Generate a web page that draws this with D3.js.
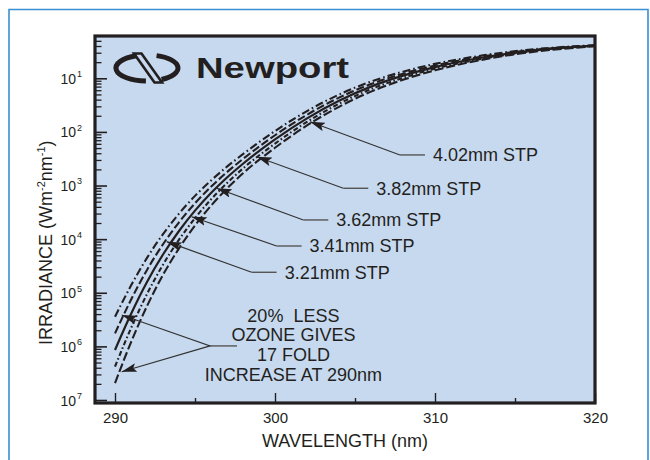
<!DOCTYPE html>
<html>
<head>
<meta charset="utf-8">
<script src="https://cdn.jsdelivr.net/npm/d3@7"></script>
<style>
  html, body { margin: 0; padding: 0; background: #ffffff; }
  svg { display: block; font-family: "Liberation Sans", Arial, Helvetica, sans-serif; }
</style>
</head>
<body>
<svg id="chart" width="650" height="460"></svg>
<script>
// Spectral irradiance at ground level (W m-2 nm-1) for five ozone column amounts.
const wavelengths = [290, 291, 292, 293, 294, 295, 296, 297, 298, 300, 302, 304, 306, 308, 310, 313, 316, 320];

const irr321 = [3.57e-6, 1.36e-5, 4.48e-5, 1.24e-4, 2.99e-4, 6.41e-4, 1.24e-3, 2.25e-3, 3.85e-3, 1.04e-2, 2.44e-2, 4.97e-2, 8.69e-2, 1.33e-1, 1.86e-1, 2.68e-1, 3.44e-1, 4.15e-1];
const irr341 = [1.75e-6, 7.40e-6, 2.67e-5, 8.02e-5, 2.06e-4, 4.67e-4, 9.48e-4, 1.78e-3, 3.13e-3, 8.67e-3, 2.09e-2, 4.36e-2, 7.80e-2, 1.22e-1, 1.73e-1, 2.56e-1, 3.35e-1, 4.10e-1];
const irr362 = [8.57e-7, 4.02e-6, 1.59e-5, 5.18e-5, 1.42e-4, 3.40e-4, 7.23e-4, 1.41e-3, 2.55e-3, 7.24e-3, 1.79e-2, 3.82e-2, 7.00e-2, 1.12e-1, 1.62e-1, 2.44e-1, 3.26e-1, 4.06e-1];
const irr382 = [4.20e-7, 2.18e-6, 9.46e-6, 3.34e-5, 9.77e-5, 2.47e-4, 5.51e-4, 1.11e-3, 2.08e-3, 6.05e-3, 1.54e-2, 3.35e-2, 6.28e-2, 1.02e-1, 1.51e-1, 2.33e-1, 3.17e-1, 4.01e-1];
const irr402 = [2.06e-7, 1.19e-6, 5.64e-6, 2.16e-5, 6.73e-5, 1.80e-4, 4.20e-4, 8.79e-4, 1.69e-3, 5.06e-3, 1.32e-2, 2.94e-2, 5.64e-2, 9.38e-2, 1.41e-1, 2.23e-1, 3.08e-1, 3.96e-1];

const seriesLabels = ["3.21mm STP", "3.41mm STP", "3.62mm STP", "3.82mm STP", "4.02mm STP"];
const seriesValues = [irr321, irr341, irr362, irr382, irr402];
const seriesDash = ["8,3,1.6,3", "8,3", null, "5,2.5,1.6,2.5", "9,3"];

// Decade ticks and the exponents printed beside them.
const yTickValues = [1e-1, 1e-2, 1e-3, 1e-4, 1e-5, 1e-6, 1e-7];
const yTickExponents = ["1", "2", "3", "4", "5", "6", "7"];
const xTickLabels = [290, 300, 310, 320];
const xMinorTicks = [295, 305, 315];

// Pointer annotations: arrow tip and elbow in data units.
const stpTips = [[293.23, 8.97e-5], [294.79, 2.62e-4], [296.36, 8.89e-4], [298.86, 3.45e-3], [302.19, 1.55e-2]];
const stpElbows = [[298.54, 2.41e-5], [300.10, 7.45e-5], [301.77, 2.28e-4], [304.27, 8.89e-4], [307.81, 3.72e-3]];

const ozoneNote = ["20%\u00a0\u00a0LESS", "OZONE GIVES", "17 FOLD", "INCREASE AT 290nm"];
const ozoneTips = [[290.42, 3.85e-6], [290.42, 3.37e-7]];
const ozoneJoin = [295.94, 1.02e-6];
const ozoneNoteAnchor = [301.15, 2.89e-6];

// Layout
const W = 650, H = 460;
const plot = { left: 95, right: 595, top: 36, bottom: 403 };
const ink = "#231f20";

const svg = d3.select("#chart");

const x = d3.scaleLinear().domain([288.75, 320]).range([plot.left, plot.right]);
const y = d3.scaleLog().domain([1e-7, 1e-1]).range([400, 78.3]);

// Outer page border
svg.append("path")
  .attr("d", `M9,${H + 2} V9.5 H648 V${H + 2}`)
  .attr("fill", "none")
  .attr("stroke", "#3a8fd2")
  .attr("stroke-width", 1.6);

// Plot background
svg.append("rect")
  .attr("x", plot.left).attr("y", plot.top)
  .attr("width", plot.right - plot.left).attr("height", plot.bottom - plot.top)
  .attr("fill", "#c7d9ef");

svg.append("clipPath").attr("id", "plotClip")
  .append("rect")
  .attr("x", plot.left).attr("y", plot.top)
  .attr("width", plot.right - plot.left).attr("height", plot.bottom - plot.top);

// Minor log ticks (2..9 within each decade), kept inside the frame
const yMinor = [];
for (let e = -8; e <= -1; e++) {
  for (let m = 2; m <= 9; m++) {
    const v = m * Math.pow(10, e);
    const py = y(v);
    if (py > plot.top + 2 && py < plot.bottom - 2) yMinor.push(v);
  }
}

const yMinorAxis = d3.axisLeft(y).tickValues(yMinor).tickSizeInner(-6.5).tickSizeOuter(0).tickFormat("");
svg.append("g").attr("transform", `translate(${plot.left},0)`).call(yMinorAxis)
  .call(g => g.select(".domain").remove())
  .call(g => g.selectAll("line").attr("stroke", ink).attr("stroke-width", 1.3));

const yAxis = d3.axisLeft(y).tickValues(yTickValues).tickSizeInner(-12).tickSizeOuter(0).tickPadding(13)
  .tickFormat(() => "");
const yAxisG = svg.append("g").attr("transform", `translate(${plot.left},0)`).call(yAxis);
yAxisG.select(".domain").remove();
yAxisG.attr("font-family", null);
yAxisG.selectAll("line").attr("stroke", ink).attr("stroke-width", 1.6);
yAxisG.selectAll(".tick text").each(function (d, i) {
  const t = d3.select(this)
    .attr("font-size", 14).attr("fill", ink)
    .attr("text-anchor", "end").attr("dy", "0.36em");
  t.append("tspan").text("10");
  t.append("tspan").attr("font-size", 9).attr("dy", "-0.75em").attr("dx", "1").text(yTickExponents[i]);
});

const xAxis = d3.axisBottom(x).tickValues(xTickLabels).tickSizeInner(-10).tickSizeOuter(0).tickPadding(9).tickFormat(d3.format("d"));
const xAxisG = svg.append("g").attr("transform", `translate(0,${plot.bottom})`).call(xAxis);
xAxisG.select(".domain").remove();
xAxisG.attr("font-family", null).attr("font-size", 15);
xAxisG.selectAll("line").attr("stroke", ink).attr("stroke-width", 1.4);
xAxisG.selectAll("text").attr("fill", ink);

const xMinorAxis = d3.axisBottom(x).tickValues(xMinorTicks).tickSizeInner(-5).tickSizeOuter(0).tickFormat("");
svg.append("g").attr("transform", `translate(0,${plot.bottom})`).call(xMinorAxis)
  .call(g => g.select(".domain").remove())
  .call(g => g.selectAll("line").attr("stroke", ink).attr("stroke-width", 1.4));

// Irradiance curves
const line = d3.line()
  .x(d => x(d[0]))
  .y(d => y(d[1]))
  .curve(d3.curveMonotoneX);

const curves = svg.append("g").attr("clip-path", "url(#plotClip)");
seriesValues.forEach((vals, i) => {
  const pts = wavelengths.map((w, j) => [w, vals[j]]);
  curves.append("path")
    .attr("d", line(pts))
    .attr("fill", "none")
    .attr("stroke", ink)
    .attr("stroke-width", seriesDash[i] ? 2.1 : 2.2)
    .attr("stroke-dasharray", seriesDash[i]);
});

// Frame
svg.append("rect")
  .attr("x", plot.left).attr("y", plot.top)
  .attr("width", plot.right - plot.left).attr("height", plot.bottom - plot.top)
  .attr("fill", "none").attr("stroke", ink).attr("stroke-width", 3.2);

// Arrowhead marker
const defs = svg.append("defs");
defs.append("marker")
  .attr("id", "arrow")
  .attr("viewBox", "0 0 15 9")
  .attr("refX", 15).attr("refY", 4.5)
  .attr("markerUnits", "userSpaceOnUse")
  .attr("markerWidth", 15).attr("markerHeight", 9)
  .attr("orient", "auto-start-reverse")
  .append("path").attr("d", "M0,0 L15,4.5 L0,9 L3,4.5 Z").attr("fill", ink);

// Labelled pointers to each curve
const leaderLen = 25, textGap = 33;
const ann = svg.append("g");
seriesLabels.forEach((lab, i) => {
  const tx = x(stpTips[i][0]), ty = y(stpTips[i][1]);
  const ex = x(stpElbows[i][0]), ey = y(stpElbows[i][1]);
  ann.append("path")
    .attr("d", `M${tx},${ty} L${ex},${ey}`)
    .attr("fill", "none").attr("stroke", "#333").attr("stroke-width", 1.2)
    .attr("marker-start", "url(#arrow)");
  ann.append("path")
    .attr("d", `M${ex},${ey} H${ex + leaderLen}`)
    .attr("stroke", "#555").attr("stroke-width", 1.4);
  ann.append("text")
    .attr("x", ex + textGap).attr("y", ey).attr("dy", "0.36em")
    .attr("font-size", 18).attr("fill", ink)
    .text(lab);
});

// Ozone note with its two pointers
const jx = x(ozoneJoin[0]), jy = y(ozoneJoin[1]);
ann.append("path")
  .attr("d", `M${x(ozoneTips[0][0])},${y(ozoneTips[0][1])} L${jx},${jy} L${x(ozoneTips[1][0])},${y(ozoneTips[1][1])}`)
  .attr("fill", "none").attr("stroke", "#333").attr("stroke-width", 1.2)
  .attr("marker-start", "url(#arrow)").attr("marker-end", "url(#arrow)");
ann.append("path")
  .attr("d", `M${jx},${jy} H${jx + 27}`)
  .attr("stroke", "#555").attr("stroke-width", 1.4);
const note = ann.append("text")
  .attr("x", x(ozoneNoteAnchor[0])).attr("y", y(ozoneNoteAnchor[1]))
  .attr("text-anchor", "middle").attr("font-size", 18).attr("fill", ink);
ozoneNote.forEach((t, i) => {
  note.append("tspan")
    .attr("x", x(ozoneNoteAnchor[0]))
    .attr("dy", i === 0 ? 0 : 19.7)
    .text(t);
});

// Axis titles
svg.append("text")
  .attr("x", (plot.left + plot.right) / 2).attr("y", 447)
  .attr("text-anchor", "middle").attr("font-size", 18).attr("fill", ink)
  .text("WAVELENGTH (nm)");

const yTitle = svg.append("text")
  .attr("transform", "translate(51.5,345) rotate(-90)")
  .attr("font-size", 18).attr("fill", ink);
yTitle.append("tspan").text("IRRADIANCE (Wm");
yTitle.append("tspan").attr("font-size", 11).attr("dy", -7).text("-2");
yTitle.append("tspan").attr("dy", 7).text("nm");
yTitle.append("tspan").attr("font-size", 11).attr("dy", -7).text("-1");
yTitle.append("tspan").attr("dy", 7).text(")");

// Company logo
const logo = svg.append("g");
const cx = 147, cy = 68, rx = 31, ry = 13;
const pt = a => [cx + rx * Math.cos(a * Math.PI / 180), cy + ry * Math.sin(a * Math.PI / 180)];
const l0 = pt(250), l1 = pt(92);
logo.append("path")
  .attr("d", `M${l0[0]},${l0[1]} A${rx},${ry} 0 0 0 ${l1[0]},${l1[1]}`)
  .attr("fill", "none").attr("stroke", ink).attr("stroke-width", 5);
const r0 = pt(62), r1 = pt(-72);
logo.append("path")
  .attr("d", `M${r0[0]},${r0[1]} A${rx},${ry} 0 0 0 ${r1[0]},${r1[1]}`)
  .attr("fill", "none").attr("stroke", ink).attr("stroke-width", 5);
logo.append("path")
  .attr("d", "M134,53.5 L141.5,53.5 L162,82.5 L154.5,82.5 Z")
  .attr("fill", "none").attr("stroke", ink).attr("stroke-width", 2.6).attr("stroke-linejoin", "miter");
logo.append("text")
  .attr("x", 196).attr("y", 77.5)
  .attr("font-size", 29).attr("font-weight", "bold").attr("fill", ink)
  .attr("textLength", 153).attr("lengthAdjust", "spacingAndGlyphs")
  .text("Newport");
</script>
</body>
</html>
